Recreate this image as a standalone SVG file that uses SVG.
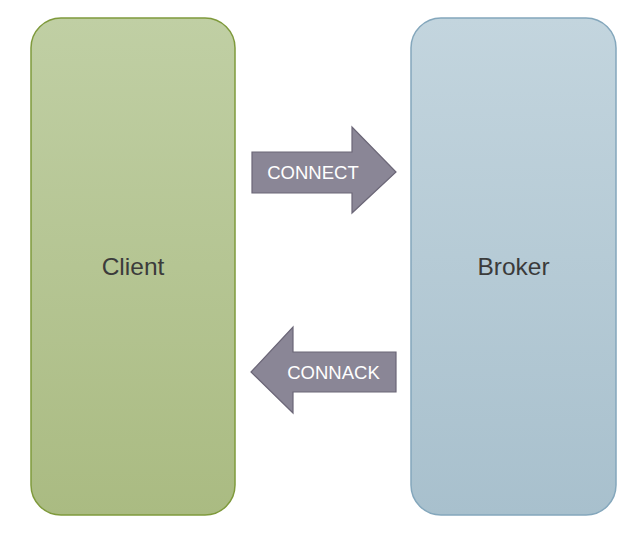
<svg xmlns="http://www.w3.org/2000/svg" width="642" height="534" viewBox="0 0 642 534">
<defs>
<linearGradient id="gClient" x1="0" y1="0" x2="0" y2="1">
<stop offset="0" stop-color="#c0cfa4"/>
<stop offset="1" stop-color="#aabb82"/>
</linearGradient>
<linearGradient id="gBroker" x1="0" y1="0" x2="0" y2="1">
<stop offset="0" stop-color="#c3d5de"/>
<stop offset="1" stop-color="#a8c0cd"/>
</linearGradient>
<style>
.node-label{font-family:"Liberation Sans",Arial,sans-serif;font-size:24.5px;fill:#3b3b3b;text-anchor:middle}
.arrow{fill:#8a8696;stroke:#6b6677;stroke-width:1.2}
.arrow-label{font-family:"Liberation Sans",Arial,sans-serif;font-size:18.5px;fill:#ffffff;text-anchor:middle}
</style>
</defs>
<rect width="642" height="534" fill="#ffffff"/>
<g id="client">
<rect x="31" y="18" width="204" height="497" rx="30" ry="30" fill="url(#gClient)" stroke="#7f9a3c" stroke-width="1.5"/>
<text class="node-label" x="133" y="275">Client</text>
</g>
<g id="broker">
<rect x="411" y="18" width="205" height="497" rx="30" ry="30" fill="url(#gBroker)" stroke="#84a7bc" stroke-width="1.5"/>
<text class="node-label" x="513.5" y="275">Broker</text>
</g>
<g id="connectors">
<g id="connect">
<polygon class="arrow" points="252,152 352,152 352,127 396,172 352,213 352,193 252,193"/>
<text class="arrow-label" x="313" y="178.5">CONNECT</text>
</g>
<g id="connack">
<polygon class="arrow" points="396,352 293,352 293,327 251,372 293,413 293,392 396,392"/>
<text class="arrow-label" x="333.5" y="378.5">CONNACK</text>
</g>
</g>
</svg>
